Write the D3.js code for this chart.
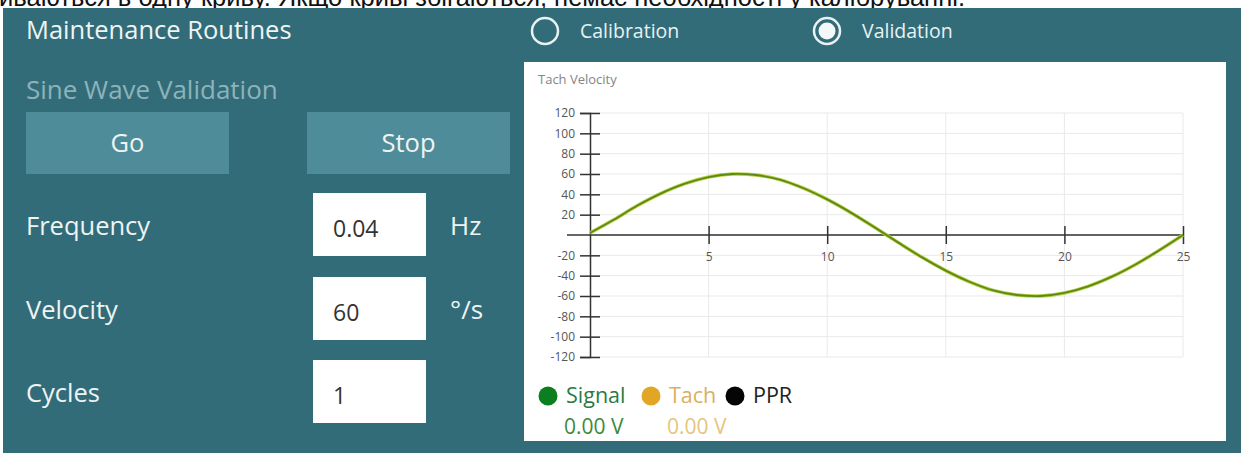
<!DOCTYPE html>
<html>
<head>
<meta charset="utf-8">
<script src="https://cdn.jsdelivr.net/npm/d3@7"></script>
<style>
  html, body { margin: 0; padding: 0; background: #ffffff; }
  svg { display: block; }
  text { font-family: "Open Sans", "Noto Sans", sans-serif; }
</style>
</head>
<body>
<svg id="chart" width="1241" height="453"></svg>
<script>
// ---------- data ----------
const timeSeconds = [0, 1, 2, 3, 4, 5, 6, 7, 8, 9, 10, 11, 12, 13, 14, 15, 16, 17, 18, 19, 20, 21, 22, 23, 24, 25];
const signalValues = [2, 15, 29, 41, 50.5, 57, 60, 59, 54.5, 46, 35, 22, 7.5, -7.5, -22, -35, -46, -54.5, -59, -60, -57, -50.5, -41, -29, -15, 0];
const tachValues   = [2, 15, 29, 41, 50.5, 57, 60, 59, 54.5, 46, 35, 22, 7.5, -7.5, -22, -35, -46, -54.5, -59, -60, -57, -50.5, -41, -29, -15, 0];
const xTicks = [5, 10, 15, 20, 25];
const yTicks = [-120, -100, -80, -60, -40, -20, 20, 40, 60, 80, 100, 120];
const yGrid = [-120, -100, -80, -60, -40, -20, 0, 20, 40, 60, 80, 100, 120];
const legendNames = ["Signal", "Tach", "PPR"];
const legendReadings = ["0.00 V", "0.00 V", ""];
const formLabels = ["Frequency", "Velocity", "Cycles"];
const formValues = ["0.04", "60", "1"];
const formUnits = ["Hz", "°/s", ""];
const modeOptions = ["Calibration", "Validation"];

// ---------- page ----------
const svg = d3.select("#chart");
const TEAL = "#336c79";

// caption above the panel (cut off at the top edge, as in the screenshot)
svg.append("text")
  .attr("x", -1).attr("y", 5.5)
  .style("font-family", "'Liberation Sans', Arial, sans-serif")
  .style("font-size", "25.5px")
  .attr("fill", "#111")
  .text("иваються в одну криву. Якщо криві збігаються, немає необхідності у калібруванні.");

svg.append("rect").attr("x", 3).attr("y", 8).attr("width", 1238).attr("height", 445).attr("fill", TEAL);

// left panel
svg.append("text").attr("x", 26).attr("y", 39).attr("fill", "#eef4f4")
  .style("font-size", "25.5px").text("Maintenance Routines");
svg.append("text").attr("x", 26).attr("y", 99).attr("fill", "#8db3bb")
  .style("font-size", "26px").text("Sine Wave Validation");

const buttons = [{label: "Go", x: 26}, {label: "Stop", x: 307}];
buttons.forEach(b => {
  svg.append("rect").attr("x", b.x).attr("y", 112).attr("width", 203).attr("height", 62).attr("fill", "#4f8c99");
  svg.append("text").attr("x", b.x + 101.5).attr("y", 152).attr("text-anchor", "middle")
    .attr("fill", "#eef4f4").style("font-size", "25.5px").text(b.label);
});

const rowTops = [193, 277, 360];
formLabels.forEach((lab, i) => {
  const top = rowTops[i];
  svg.append("text").attr("x", 26).attr("y", top + 42).attr("fill", "#eef4f4")
    .style("font-size", "25.5px").text(lab);
  svg.append("rect").attr("x", 313).attr("y", top).attr("width", 113).attr("height", 63).attr("fill", "#ffffff");
  svg.append("text").attr("x", 333).attr("y", top + 44).attr("fill", "#333")
    .style("font-size", "23px").text(formValues[i]);
  if (formUnits[i]) {
    svg.append("text").attr("x", 450).attr("y", top + 42).attr("fill", "#eef4f4")
      .style("font-size", "26px").text(formUnits[i]);
  }
});

// radio buttons
const radioX = [545, 827];
modeOptions.forEach((opt, i) => {
  svg.append("circle").attr("cx", radioX[i]).attr("cy", 31).attr("r", 13)
    .attr("fill", "none").attr("stroke", "#e8f2f2").attr("stroke-width", 2.5);
  if (i === 1) {
    svg.append("circle").attr("cx", radioX[i]).attr("cy", 31).attr("r", 8.5).attr("fill", "#f4f8f8");
  }
  svg.append("text").attr("x", radioX[i] + 35).attr("y", 38).attr("fill", "#e8f2f2")
    .style("font-size", "19.5px").text(opt);
});

// chart panel
svg.append("rect").attr("x", 524).attr("y", 62).attr("width", 702).attr("height", 379).attr("fill", "#ffffff");
svg.append("text").attr("x", 538).attr("y", 84).attr("fill", "#858585")
  .style("font-size", "13px").text("Tach Velocity");

const x = d3.scaleLinear().domain([0, 25]).range([590, 1183]);
const y = d3.scaleLinear().domain([-120, 120]).range([357, 113]);

// grid
const grid = svg.append("g");
grid.selectAll("line.h").data(yGrid).join("line")
  .attr("x1", x(0)).attr("x2", x(25)).attr("y1", d => y(d)).attr("y2", d => y(d))
  .attr("stroke", "#e9e9e9").attr("stroke-width", 1);
grid.selectAll("line.v").data(xTicks).join("line")
  .attr("x1", d => x(d)).attr("x2", d => x(d)).attr("y1", y(120)).attr("y2", y(-120))
  .attr("stroke", "#e9e9e9").attr("stroke-width", 1);

// x axis
const xAxisG = svg.append("g").attr("transform", `translate(0,${y(0)})`)
  .call(d3.axisBottom(x).tickValues(xTicks).tickFormat(d => String(d)).tickSize(9).tickPadding(8));
xAxisG.select(".domain").remove();
xAxisG.selectAll(".tick line").attr("y1", -9).attr("y2", 9).attr("stroke", "#333").attr("stroke-width", 1.5);
xAxisG.selectAll(".tick text").attr("fill", "#555").style("font-size", "12px").style("font-family", "'Open Sans', sans-serif");
xAxisG.append("line").attr("x1", x(0) - 23).attr("x2", x(25)).attr("y1", 0).attr("y2", 0)
  .attr("stroke", "#333").attr("stroke-width", 1.5);

// y axis
const yAxisG = svg.append("g").attr("transform", `translate(${x(0)},0)`)
  .call(d3.axisLeft(y).tickValues(yTicks).tickFormat(d => String(d)).tickSize(10).tickPadding(5));
yAxisG.select(".domain").attr("stroke", "#333").attr("stroke-width", 1.5);
yAxisG.selectAll(".tick line").attr("x1", -10).attr("x2", 10).attr("stroke", "#333").attr("stroke-width", 1.5);
yAxisG.selectAll(".tick text").attr("fill", "#555").style("font-size", "12px").style("font-family", "'Open Sans', sans-serif");

// series
const line = (vals) => d3.line().x((d, i) => x(timeSeconds[i])).y(d => y(d)).curve(d3.curveCatmullRom)(vals);
svg.append("path").attr("d", line(tachValues)).attr("fill", "none").attr("stroke", "#bccd3c").attr("stroke-width", 3.5);
svg.append("path").attr("d", line(signalValues)).attr("fill", "none").attr("stroke", "#5a8a1a").attr("stroke-width", 1.8);

// legend
const legendColors = ["#0b7f1f", "#e0a624", "#050505"];
const legendTextColors = ["#2a7a45", "#d8b060", "#222"];
const legendX = [548, 651, 735];
legendNames.forEach((nm, i) => {
  svg.append("circle").attr("cx", legendX[i]).attr("cy", 396).attr("r", 9.5).attr("fill", legendColors[i]);
  svg.append("text").attr("x", legendX[i] + 18).attr("y", 403).attr("fill", legendTextColors[i])
    .style("font-size", "21.5px").text(nm);
  if (legendReadings[i]) {
    svg.append("text").attr("x", legendX[i] + 16).attr("y", 434).attr("fill", i === 0 ? "#3d8a3a" : "#e6c47e")
      .style("font-size", "21px").text(legendReadings[i]);
  }
});
</script>
</body>
</html>
